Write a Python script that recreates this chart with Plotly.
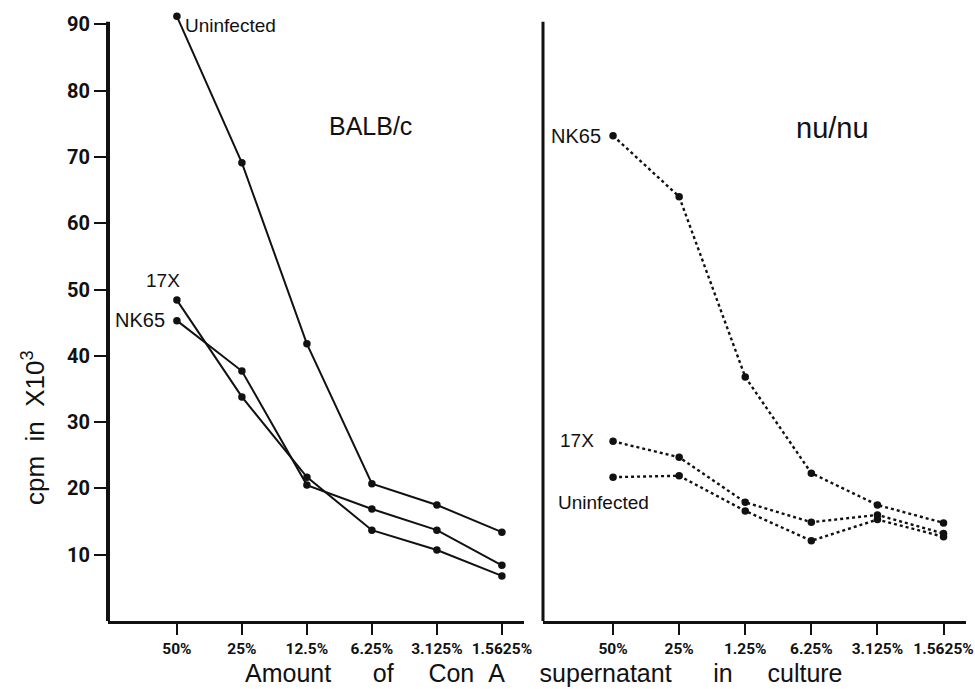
import plotly.graph_objects as go

# Con A supernatant dilutions (tick labels as printed on each panel)
dilutions_balb = ["50%", "25%", "12.5%", "6.25%", "3.125%", "1.5625%"]
dilutions_nude = ["50%", "25%", "1.25%", "6.25%", "3.125%", "1.5625%"]
positions = [0, 1, 2, 3, 4, 5]

# BALB/c mice, cpm x 10^3
balb_uninfected = [91.2, 69.1, 41.8, 20.7, 17.5, 13.4]
balb_17x = [48.4, 33.8, 21.7, 13.7, 10.7, 6.8]
balb_nk65 = [45.3, 37.7, 20.5, 16.9, 13.7, 8.4]

# nu/nu mice, cpm x 10^3
nude_nk65 = [73.2, 64.0, 36.8, 22.3, 17.5, 14.8]
nude_17x = [27.1, 24.7, 17.9, 14.9, 16.0, 13.2]
nude_uninfected = [21.7, 21.9, 16.6, 12.1, 15.3, 12.7]

y_ticks = [10, 20, 30, 40, 50, 60, 70, 80, 90]
axis_top = 90.4   # printed axis lines stop just above the 90 tick

INK = "#111111"
LABEL_FONT = "Liberation Sans, Arial, Helvetica, sans-serif"
TICK_FONT = "Roboto, Liberation Sans, sans-serif"

W, H = 975, 689
fig = go.Figure()


def add_series(values, xa, ya, dash, width):
    fig.add_trace(go.Scatter(
        x=positions, y=values, xaxis=xa, yaxis=ya,
        mode="lines+markers",
        line=dict(color=INK, width=width, dash=dash),
        marker=dict(color=INK, size=7.5),
        cliponaxis=False, showlegend=False, hoverinfo="skip",
    ))


for vals in (balb_uninfected, balb_17x, balb_nk65):
    add_series(vals, "x", "y", "solid", 2.0)
for vals in (nude_nk65, nude_17x, nude_uninfected):
    add_series(vals, "x2", "y2", "dot", 2.4)

# vertical scale: 0 sits at 621 px, 6.63 px per unit; range reaches a bit
# above 90 so the top BALB/c point stays inside the plotting area
y_range = [0, 93]
bottom_px, unit_px = 621, 6.63
top_px = bottom_px - y_range[1] * unit_px
y_dom = [1 - bottom_px / H, 1 - top_px / H]
x_range = [-1.06, 5.34]

common_x = dict(
    range=x_range, tickmode="array", tickvals=positions, tickangle=0,
    showline=True, linewidth=3, linecolor=INK, mirror=False,
    ticks="outside", ticklen=11, tickwidth=2, tickcolor=INK,
    showgrid=False, zeroline=False, automargin=False,
    ticklabeloverflow="allow",
    tickfont=dict(family=TICK_FONT, size=15.5, color=INK, weight="bold"),
)

fig.update_layout(
    width=W, height=H, autosize=False,
    margin=dict(l=0, r=0, t=0, b=0, pad=0),
    paper_bgcolor="white", plot_bgcolor="white",
    xaxis=dict(domain=[108 / W, 524 / W], anchor="y",
               ticktext=dilutions_balb, **common_x),
    xaxis2=dict(domain=[543 / W, 966 / W], anchor="y2",
                ticktext=dilutions_nude, **common_x),
    yaxis=dict(domain=y_dom, anchor="x", range=y_range,
               tickmode="array", tickvals=y_ticks,
               showline=False, automargin=False,
               ticks="outside", ticklen=13, tickwidth=2, tickcolor=INK,
               showgrid=False, zeroline=False,
               tickfont=dict(family=TICK_FONT, size=20, color=INK, weight="bold")),
    yaxis2=dict(domain=y_dom, anchor="x2", range=y_range,
                showline=False, automargin=False,
                showticklabels=False, ticks="",
                showgrid=False, zeroline=False),
)

# vertical axis lines, stopping at the top of the printed scale
fig.add_shape(type="line", xref="x domain", yref="y", x0=0, x1=0,
              y0=0, y1=axis_top, line=dict(color=INK, width=4))
fig.add_shape(type="line", xref="x2 domain", yref="y2", x0=0, x1=0,
              y0=0, y1=axis_top, line=dict(color=INK, width=3))

NB = "\u00a0"
x_title = ("Amount" + NB * 6 + "of" + NB * 5 + "Con" + NB * 2 + "A" + NB * 5
           + "supernatant" + NB * 6 + "in" + NB * 5 + "culture")

annotations = [
    # panel titles
    dict(text="BALB/c", xref="paper", yref="paper", x=370 / W, y=1 - 126 / H,
         font=dict(family=LABEL_FONT, size=25, color=INK)),
    dict(text="nu/nu", xref="paper", yref="paper", x=832 / W, y=1 - 128 / H,
         font=dict(family=LABEL_FONT, size=29, color=INK)),
    # axis titles
    dict(text=x_title, xref="paper", yref="paper", x=544 / W, y=1 - 673 / H,
         font=dict(family=LABEL_FONT, size=25, color=INK)),
    dict(text="cpm" + NB + NB + "in" + NB + NB + "X10<sup>3</sup>", textangle=-90,
         xref="paper", yref="paper", x=33 / W, y=1 - 428 / H,
         font=dict(family=LABEL_FONT, size=26, color=INK)),
    # series labels, BALB/c
    dict(text="Uninfected", xref="x", yref="y", x=0, y=balb_uninfected[0],
         xanchor="left", xshift=6, yshift=-9,
         font=dict(family=LABEL_FONT, size=19, color=INK)),
    dict(text="17X", xref="x", yref="y", x=0, y=balb_17x[0],
         xanchor="center", xshift=-14, yshift=20,
         font=dict(family=LABEL_FONT, size=19, color=INK)),
    dict(text="NK65", xref="x", yref="y", x=0, y=balb_nk65[0],
         xanchor="right", xshift=-10, yshift=1,
         font=dict(family=LABEL_FONT, size=20, color=INK)),
    # series labels, nu/nu
    dict(text="NK65", xref="x2", yref="y2", x=0, y=nude_nk65[0],
         xanchor="right", xshift=-10, yshift=0,
         font=dict(family=LABEL_FONT, size=20, color=INK)),
    dict(text="17X", xref="x2", yref="y2", x=0, y=nude_17x[0],
         xanchor="right", xshift=-17, yshift=1,
         font=dict(family=LABEL_FONT, size=19, color=INK)),
    dict(text="Uninfected", xref="x2", yref="y2", x=0, y=nude_uninfected[0],
         xanchor="center", xshift=-10, yshift=-25,
         font=dict(family=LABEL_FONT, size=19, color=INK)),
]
for a in annotations:
    a.setdefault("showarrow", False)
    a.setdefault("xanchor", "center")
    a.setdefault("yanchor", "middle")
fig.update_layout(annotations=annotations)

fig.write_html("out.html")
